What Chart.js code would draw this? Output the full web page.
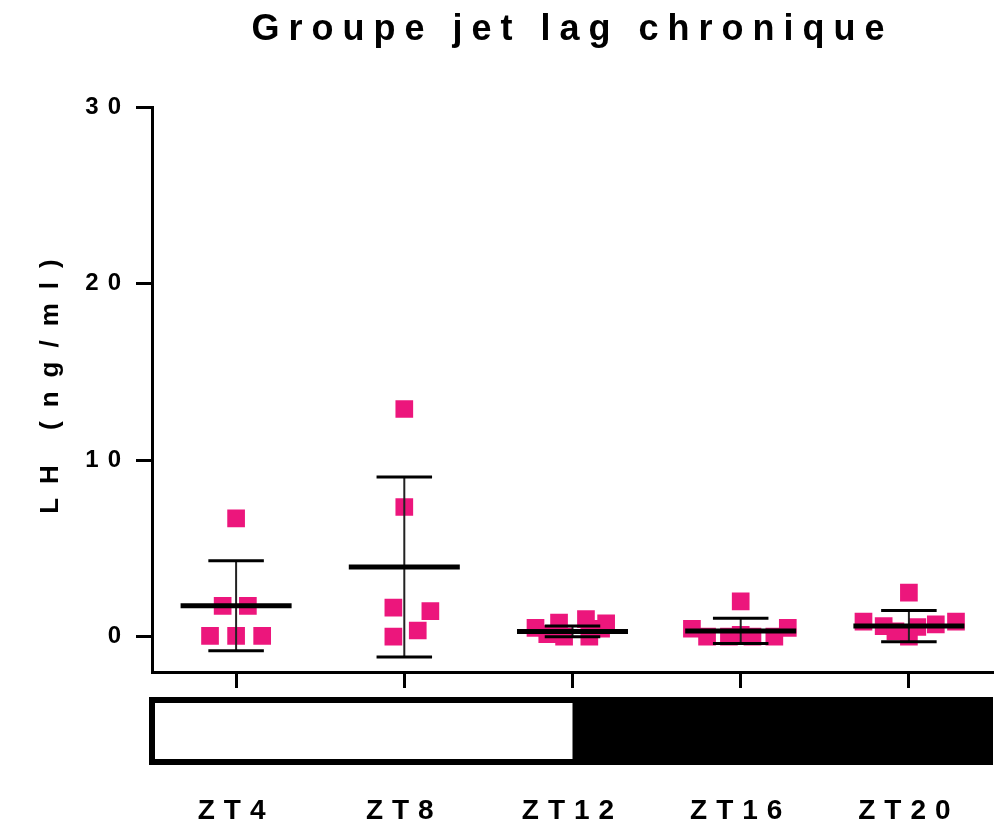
<!DOCTYPE html>
<html>
<head>
<meta charset="utf-8">
<script src="https://cdn.jsdelivr.net/npm/chart.js@4"></script>
<style>
  body { margin: 0; background: #fff; }
</style>
</head>
<body>
<canvas id="lhChart" width="997" height="829"></canvas>
<script>
const groups = ['ZT4', 'ZT8', 'ZT12', 'ZT16', 'ZT20'];
const yTicks = [0, 10, 20, 30];

// LH per animal (ng/ml)
const lhZT4  = [6.7, 1.75, 1.75, 0.05, 0.05, 0.05];
const lhZT8  = [12.9, 7.35, 1.65, 1.45, 0.35, 0.0];
const lhZT12 = [1.0, 0.8, 0.75, 0.5, 0.45, 0.15, 0.0, 0.0];
const lhZT16 = [2.0, 0.5, 0.45, 0.1, 0.0, 0.0, 0.0, 0.0];
const lhZT20 = [2.5, 0.85, 0.85, 0.7, 0.6, 0.55, 0.3, 0.0];

// horizontal spread of each point inside its column (category units)
const jitterZT4  = [0, -0.08, 0.07, -0.155, 0, 0.155];
const jitterZT8  = [0, 0, -0.065, 0.155, 0.08, -0.065];
const jitterZT12 = [0.08, -0.08, 0.2, -0.22, 0.17, -0.15, -0.05, 0.1];
const jitterZT16 = [0, 0.28, -0.29, 0.0, -0.2, -0.07, 0.07, 0.2];
const jitterZT20 = [0, -0.27, 0.28, 0.16, -0.15, 0.05, -0.08, 0.0];

// mean +/- SD drawn over each column
const means = [1.75, 3.95, 0.3, 0.33, 0.6];
const sds   = [2.55, 5.1, 0.3, 0.72, 0.88];

// light phase runs until ZT12, dark afterwards
const lightEnd = 'ZT12';

const values = [lhZT4, lhZT8, lhZT12, lhZT16, lhZT20];
const jitters = [jitterZT4, jitterZT8, jitterZT12, jitterZT16, jitterZT20];

const points = [];
values.forEach((vals, g) => {
  vals.forEach((v, k) => points.push({ x: g + jitters[g][k], y: v }));
});

const FONT = "'Liberation Sans', Arial, sans-serif";
const PINK = 'rgb(236, 22, 124)';

// GraphPad style letter spacing on all canvas text
const spacing = {
  id: 'spacing',
  beforeLayout(chart) { chart.ctx.letterSpacing = '9px'; },
  beforeDraw(chart) {
    chart.ctx.letterSpacing = '9px';
    const y = chart.scales.y;
    if (!y._wideTitle) {
      const orig = y.drawTitle;
      y.drawTitle = function() {
        this.ctx.save();
        this.ctx.letterSpacing = '14px';
        this.ctx.translate(0, -10);
        orig.call(this);
        this.ctx.restore();
      };
      y._wideTitle = true;
    }
  }
};

// mean line with SD whiskers
const meanSd = {
  id: 'meanSd',
  afterDatasetsDraw(chart) {
    const ctx = chart.ctx;
    const xs = chart.scales.x, ys = chart.scales.y;
    ctx.save();
    means.forEach((m, i) => {
      const x = xs.getPixelForValue(i);
      const half = xs.getPixelForValue(i + 0.33) - x;
      const cap = xs.getPixelForValue(i + 0.165) - x;
      const yTop = ys.getPixelForValue(m + sds[i]);
      const yBot = ys.getPixelForValue(m - sds[i]);
      const yMid = ys.getPixelForValue(m);

      ctx.strokeStyle = '#222';
      ctx.lineWidth = 2;
      ctx.beginPath();
      ctx.moveTo(x, yTop);
      ctx.lineTo(x, yBot);
      ctx.stroke();

      ctx.strokeStyle = '#000';
      ctx.lineWidth = 3;
      ctx.beginPath();
      ctx.moveTo(x - cap, yTop); ctx.lineTo(x + cap, yTop);
      ctx.moveTo(x - cap, yBot); ctx.lineTo(x + cap, yBot);
      ctx.stroke();

      ctx.lineWidth = 5;
      ctx.beginPath();
      ctx.moveTo(x - half, yMid);
      ctx.lineTo(x + half, yMid);
      ctx.stroke();
    });
    ctx.restore();
  }
};

// light / dark bar under the x axis
const lightDark = {
  id: 'lightDark',
  afterDraw(chart) {
    const ctx = chart.ctx;
    const xs = chart.scales.x;
    const left = xs.getPixelForValue(xs.min);
    const right = xs.getPixelForValue(xs.max) - 3;
    const split = xs.getPixelForValue(groups.indexOf(lightEnd));
    const top = xs.top + 28;
    const h = 62;
    ctx.save();
    ctx.fillStyle = '#fff';
    ctx.fillRect(left, top, split - left, h);
    ctx.fillStyle = '#000';
    ctx.fillRect(split, top, right - split, h);
    ctx.strokeStyle = '#000';
    ctx.lineWidth = 6;
    ctx.strokeRect(left, top, right - left, h);
    ctx.restore();
  }
};

const ctx = document.getElementById('lhChart').getContext('2d');
new Chart(ctx, {
  type: 'scatter',
  data: {
    datasets: [{
      label: 'LH',
      data: points,
      pointStyle: 'rect',
      pointRadius: 12.5,
      pointHoverRadius: 12.5,
      pointBorderWidth: 0,
      backgroundColor: PINK,
      borderColor: PINK
    }]
  },
  options: {
    responsive: false,
    animation: false,
    events: [],
    layout: { autoPadding: false, padding: { left: 0, right: 4, top: 0, bottom: 0 } },
    scales: {
      x: {
        type: 'linear',
        min: -0.5,
        max: 4.5,
        afterBuildTicks: scale => { scale.ticks = groups.map((g, i) => ({ value: i })); },
        afterFit: scale => {
          scale.height = 157;
          scale.paddingLeft = 0;
          scale.paddingRight = 0;
        },
        ticks: {
          callback: v => groups[v],
          color: '#000',
          padding: 106,
          font: { family: FONT, size: 28, weight: 'bold' }
        },
        grid: { drawOnChartArea: false, tickLength: 16, tickWidth: 3, tickColor: '#000' },
        border: { color: '#000', width: 3 }
      },
      y: {
        min: -2,
        max: 30,
        afterBuildTicks: scale => { scale.ticks = yTicks.map(v => ({ value: v })); },
        afterFit: scale => { scale.width = 152; },
        ticks: {
          color: '#000',
          padding: 6,
          font: { family: FONT, size: 24, weight: 'bold' }
        },
        grid: { drawOnChartArea: false, tickLength: 16, tickWidth: 3, tickColor: '#000' },
        border: { color: '#000', width: 3 },
        title: {
          display: true,
          text: 'LH (ng/ml)',
          color: '#000',
          padding: { top: 35, bottom: 0 },
          font: { family: FONT, size: 26, weight: 'bold' }
        }
      }
    },
    plugins: {
      legend: { display: false },
      tooltip: { enabled: false },
      title: {
        display: true,
        fullSize: false,
        text: 'Groupe jet lag chronique',
        color: '#000',
        padding: { top: 8, bottom: 56 },
        font: { family: FONT, size: 36, weight: 'bold' }
      }
    }
  },
  plugins: [spacing, meanSd, lightDark]
});
</script>
</body>
</html>
